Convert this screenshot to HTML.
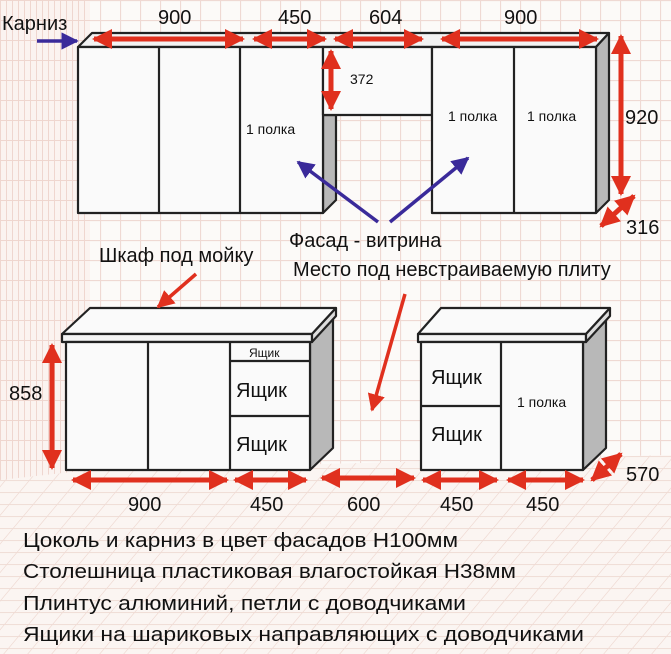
<!DOCTYPE html>
<html><head><meta charset="utf-8"><style>
html,body{margin:0;padding:0;background:#fbf7f5}
svg{display:block}
text{font-family:"Liberation Sans",sans-serif;fill:#111}
</style></head><body>
<svg width="671" height="654" viewBox="0 0 671 654" xmlns="http://www.w3.org/2000/svg">
<defs>
<pattern id="g" width="20" height="20" patternUnits="userSpaceOnUse">
<rect width="20" height="20" fill="#fcfaf8"/>
<path d="M0 0.5H20M0.5 0V20" stroke="#efd9d3" stroke-width="1.2"/>
</pattern>
<pattern id="w" width="6" height="20" patternUnits="userSpaceOnUse">
<rect width="6" height="20" fill="#fbf3f0"/>
<path d="M0.5 0V20M0 0.5H6" stroke="#efd6cf" stroke-width="1"/>
</pattern>
<pattern id="f" width="24" height="12" patternUnits="userSpaceOnUse" patternTransform="skewX(-40)">
<rect width="24" height="12" fill="#fbf5f2"/>
<path d="M0 0.5H24M0.5 0V12" stroke="#f0dcd5" stroke-width="1"/>
</pattern>
<marker id="ar" viewBox="0 0 10 10" refX="9" refY="5" markerWidth="4" markerHeight="4" orient="auto-start-reverse"><path d="M0 0L10 5L0 10z" fill="#e0301e"/></marker>
<marker id="ap" viewBox="0 0 10 10" refX="9" refY="5" markerWidth="5" markerHeight="5" orient="auto"><path d="M0 0L10 5L0 10z" fill="#3a2a9a"/></marker>
<marker id="ar2" viewBox="0 0 10 10" refX="9" refY="5" markerWidth="5" markerHeight="5" orient="auto"><path d="M0 0L10 5L0 10z" fill="#e0301e"/></marker>
</defs>
<rect width="671" height="654" fill="url(#g)"/>
<rect x="0" y="0" width="90" height="480" fill="url(#w)"/>
<polygon points="0,480 90,470 671,455 671,654 0,654" fill="url(#f)"/>

<g stroke="#222" stroke-width="2.2" stroke-linejoin="round">
<polygon points="78,47 92,33 609,33 596,47" fill="#f2f2f2"/>
<polygon points="596,47 609,33 609,200 596,213" fill="#b8b8b8"/>
<polygon points="323,115 336,115 336,200 323,213" fill="#b8b8b8"/>
<rect x="78" y="47" width="245" height="166" fill="#fafafa"/>
<line x1="159" y1="47" x2="159" y2="213"/><line x1="240" y1="47" x2="240" y2="213"/>
<rect x="323" y="47" width="109" height="68" fill="#fafafa"/>
<rect x="432" y="47" width="164" height="166" fill="#fafafa"/>
<line x1="514" y1="47" x2="514" y2="213"/>
<polygon points="310,336 333,312 333,448 310,470" fill="#b8b8b8"/>
<polygon points="62,334 90,308 336,308 312,334" fill="#fafafa"/>
<rect x="62" y="334" width="250" height="8" fill="#f4f4f4"/>
<polygon points="312,334 336,308 336,316 312,342" fill="#ddd"/>
<rect x="66" y="342" width="244" height="128" fill="#fafafa"/>
<line x1="148" y1="342" x2="148" y2="470"/><line x1="230" y1="342" x2="230" y2="470"/>
<line x1="230" y1="361" x2="310" y2="361"/><line x1="230" y1="416" x2="310" y2="416"/>
<polygon points="583,336 606,312 606,448 583,470" fill="#b8b8b8"/>
<polygon points="418,334 441,308 610,308 586,334" fill="#fafafa"/>
<rect x="418" y="334" width="168" height="8" fill="#f4f4f4"/>
<polygon points="586,334 610,308 610,316 586,342" fill="#ddd"/>
<rect x="421" y="342" width="162" height="128" fill="#fafafa"/>
<line x1="501" y1="342" x2="501" y2="470"/><line x1="421" y1="406" x2="501" y2="406"/>
</g>

<g stroke="#e0301e" stroke-width="5" fill="none" marker-start="url(#ar)" marker-end="url(#ar)">
<line x1="94" y1="39" x2="243" y2="39"/>
<line x1="254" y1="39" x2="325" y2="39"/>
<line x1="335" y1="39" x2="422" y2="39"/>
<line x1="442" y1="39" x2="597" y2="39"/>
<line x1="621" y1="36" x2="621" y2="194"/>
<line x1="601" y1="226" x2="634" y2="196"/>
<line x1="331" y1="51" x2="331" y2="109"/>
<line x1="52" y1="345" x2="52" y2="468"/>
<line x1="73" y1="480" x2="227" y2="480"/>
<line x1="235" y1="480" x2="306" y2="480"/>
<line x1="322" y1="478" x2="414" y2="478"/>
<line x1="423" y1="480" x2="497" y2="480"/>
<line x1="508" y1="480" x2="583" y2="480"/>
<line x1="592" y1="480" x2="621" y2="454"/>
</g>
<g stroke="#e0301e" stroke-width="3.5" fill="none" marker-end="url(#ar2)">
<line x1="196" y1="274" x2="158" y2="307"/>
<line x1="405" y1="294" x2="372" y2="410"/>
</g>
<g stroke="#3a2a9a" stroke-width="3.5" fill="none" marker-end="url(#ap)">
<line x1="37" y1="41" x2="77" y2="41"/>
<line x1="378" y1="222" x2="298" y2="162"/>
<line x1="390" y1="222" x2="468" y2="158"/>
</g>

<g font-size="20">
<text x="2" y="30">Карниз</text>
<text x="158" y="24">900</text>
<text x="278" y="24">450</text>
<text x="369" y="24">604</text>
<text x="504" y="24">900</text>
<text x="625" y="124">920</text>
<text x="626" y="234">316</text>
<text x="289" y="247">Фасад - витрина</text>
<text x="99" y="262">Шкаф под мойку</text>
<text x="293" y="276">Место под невстраиваемую плиту</text>
<text x="9" y="400">858</text>
<text x="128" y="511">900</text>
<text x="250" y="511">450</text>
<text x="347" y="511">600</text>
<text x="440" y="511">450</text>
<text x="526" y="511">450</text>
<text x="626" y="481">570</text>
<text x="236" y="397">Ящик</text>
<text x="236" y="451">Ящик</text>
<text x="431" y="384">Ящик</text>
<text x="431" y="441">Ящик</text>
</g>
<g font-size="14">
<text x="246" y="134">1 полка</text>
<text x="448" y="121">1 полка</text>
<text x="527" y="121">1 полка</text>
<text x="517" y="407">1 полка</text>
<text x="350" y="84">372</text>
<text x="249" y="357" font-size="12">Ящик</text>
</g>
<g font-size="20">
<text x="23" y="547" textLength="435" lengthAdjust="spacingAndGlyphs">Цоколь и карниз в цвет фасадов Н100мм</text>
<text x="23" y="578" textLength="493" lengthAdjust="spacingAndGlyphs">Столешница пластиковая влагостойкая Н38мм</text>
<text x="23" y="610" textLength="443" lengthAdjust="spacingAndGlyphs">Плинтус алюминий, петли с доводчиками</text>
<text x="23" y="641" textLength="561" lengthAdjust="spacingAndGlyphs">Ящики на шариковых направляющих с доводчиками</text>
</g>
</svg>
</body></html>
